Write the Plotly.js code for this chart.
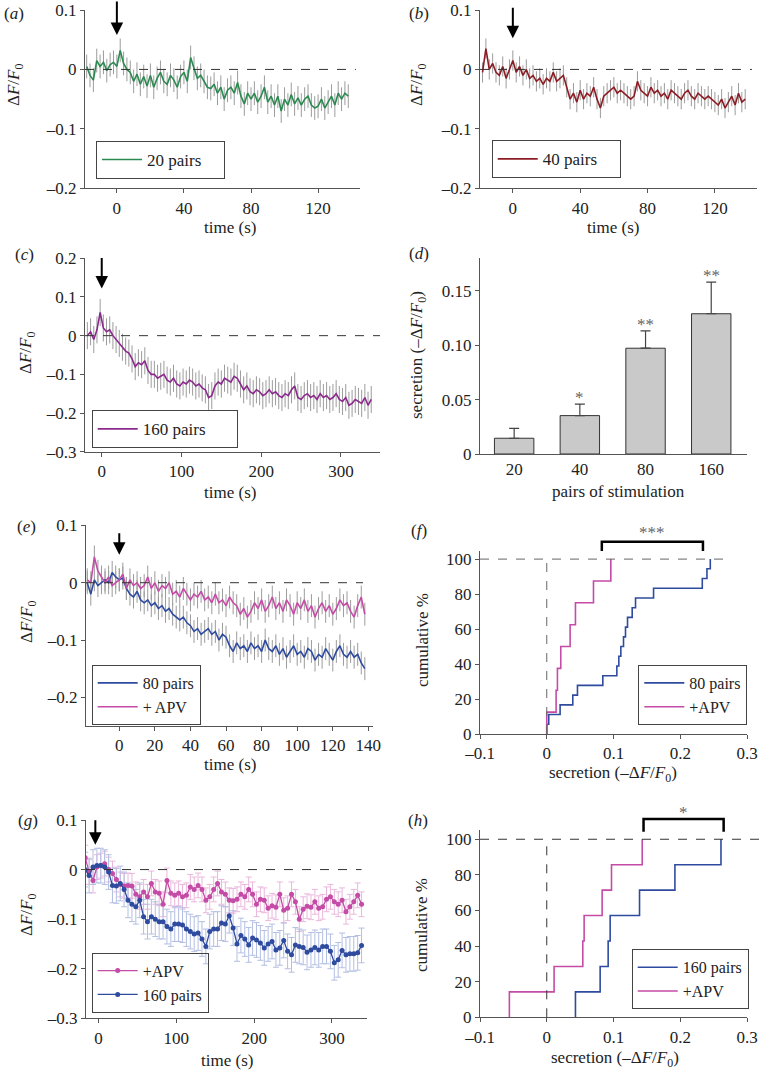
<!DOCTYPE html>
<html><head><meta charset="utf-8">
<script src="https://cdn.plot.ly/plotly-3.0.1.min.js"></script>
<style>html,body{margin:0;padding:0;background:#fff}#plot{width:760px;height:1073px}</style>
</head><body><div id="plot"></div>
<script>
// ---------------- DATA ----------------
// time grids (s)
const T_ABE = [-18,-16,-14,-12,-10,-8,-6,-4,-2,0,2,4,6,8,10,12,14,16,18,20,22,24,26,28,30,32,34,36,38,40,42,44,46,48,50,52,54,56,58,60,62,64,66,68,70,72,74,76,78,80,82,84,86,88,90,92,94,96,98,100,102,104,106,108,110,112,114,116,118,120,122,124,126,128,130,132,134,136,138];
const T_C = [-18,-14,-10,-6,-2,2,6,10,14,18,22,26,30,34,38,42,46,50,54,58,62,66,70,74,78,82,86,90,94,98,102,106,110,114,118,122,126,130,134,138,142,146,150,154,158,162,166,170,174,178,182,186,190,194,198,202,206,210,214,218,222,226,230,234,238,242,246,250,254,258,262,266,270,274,278,282,286,290,294,298,302,306,310,314,318,322,326,330,334,338];
const T_G = [-17,-12,-7,-2,3,8,13,18,23,28,33,38,43,48,53,58,63,68,73,78,83,88,93,98,103,108,113,118,123,128,133,138,143,148,153,158,163,168,173,178,183,188,193,198,203,208,213,218,223,228,233,238,243,248,253,258,263,268,273,278,283,288,293,298,303,308,313,318,323,328,333,338];

// (a) 20 pairs
const A_20 = [0.005,-0.01,-0.018,0.015,0.005,0.012,-0.002,0.008,0.012,0.005,
0.032,0.01,0.0,-0.005,-0.02,-0.008,-0.025,-0.012,-0.028,-0.01,
-0.03,-0.015,-0.005,-0.02,-0.025,-0.01,-0.018,-0.03,-0.012,-0.005,
-0.02,0.02,0.002,-0.015,-0.01,-0.02,-0.03,-0.032,-0.025,-0.04,
-0.03,-0.05,-0.035,-0.03,-0.04,-0.022,-0.045,-0.058,-0.04,-0.05,
-0.04,-0.055,-0.045,-0.03,-0.055,-0.045,-0.06,-0.045,-0.07,-0.05,
-0.06,-0.042,-0.058,-0.048,-0.06,-0.05,-0.045,-0.06,-0.065,-0.062,
-0.05,-0.065,-0.055,-0.045,-0.06,-0.04,-0.05,-0.04,-0.045];
const A_SEM = 0.02;

// (b) 40 pairs
const B_40 = [-0.005,0.035,0.0,0.01,-0.005,-0.01,0.005,-0.015,0.0,0.015,
-0.005,0.005,-0.01,0.0,-0.015,-0.01,-0.02,-0.015,-0.025,-0.015,
-0.02,-0.005,-0.02,-0.015,-0.01,-0.03,-0.05,-0.04,-0.055,-0.035,
-0.05,-0.04,-0.045,-0.03,-0.05,-0.065,-0.045,-0.04,-0.035,-0.03,
-0.04,-0.035,-0.04,-0.045,-0.05,-0.045,-0.02,-0.035,-0.04,-0.045,
-0.03,-0.04,-0.035,-0.045,-0.04,-0.05,-0.035,-0.04,-0.045,-0.05,
-0.04,-0.035,-0.045,-0.05,-0.04,-0.045,-0.05,-0.045,-0.05,-0.055,
-0.06,-0.05,-0.065,-0.055,-0.045,-0.06,-0.04,-0.055,-0.05];
const B_SEM = 0.017;

// (c) 160 pairs
const C_160 = [0.0,0.01,-0.01,0.015,0.06,0.02,0.01,0.015,0.0,-0.01,
-0.02,-0.03,-0.04,-0.045,-0.06,-0.08,-0.07,-0.075,-0.065,-0.09,
-0.1,-0.1,-0.11,-0.105,-0.1,-0.115,-0.12,-0.11,-0.125,-0.13,
-0.12,-0.125,-0.115,-0.12,-0.13,-0.125,-0.135,-0.14,-0.16,-0.155,
-0.13,-0.12,-0.125,-0.11,-0.115,-0.12,-0.105,-0.11,-0.125,-0.14,
-0.13,-0.145,-0.15,-0.14,-0.145,-0.155,-0.15,-0.14,-0.15,-0.145,
-0.155,-0.16,-0.15,-0.155,-0.14,-0.13,-0.16,-0.165,-0.155,-0.15,
-0.16,-0.155,-0.165,-0.15,-0.16,-0.155,-0.165,-0.16,-0.15,-0.165,
-0.17,-0.16,-0.18,-0.175,-0.165,-0.17,-0.175,-0.16,-0.18,-0.165];
const C_SEM = 0.035;

// (d) secretion vs pairs of stimulation
const D_CATS = ['20','40','80','160'];
const D_MEAN = [0.0145,0.0353,0.0973,0.129];
const D_SEM  = [0.009,0.0105,0.016,0.029];
const D_SIG  = ['','*','**','**'];

// (e) 80 pairs and +APV
const E_80 = [0.0,-0.02,0.005,-0.005,0.0,0.005,0.0,0.018,0.01,0.005,
0.008,-0.01,-0.02,-0.025,-0.015,-0.03,-0.035,-0.03,-0.04,-0.035,
-0.045,-0.04,-0.05,-0.045,-0.055,-0.06,-0.065,-0.06,-0.07,-0.075,
-0.085,-0.08,-0.09,-0.085,-0.08,-0.09,-0.085,-0.1,-0.09,-0.095,
-0.11,-0.12,-0.105,-0.115,-0.11,-0.12,-0.105,-0.115,-0.11,-0.12,
-0.1,-0.115,-0.12,-0.11,-0.125,-0.115,-0.13,-0.12,-0.11,-0.125,
-0.12,-0.13,-0.115,-0.12,-0.135,-0.125,-0.13,-0.115,-0.125,-0.135,
-0.12,-0.11,-0.125,-0.13,-0.12,-0.13,-0.125,-0.14,-0.15];
const E_APV = [0.005,0.0,0.045,0.02,0.01,0.0,0.01,-0.005,0.0,0.005,
0.015,-0.01,0.005,-0.005,0.0,-0.01,-0.005,0.01,-0.01,0.0,
-0.015,-0.005,-0.01,0.0,-0.02,-0.015,-0.025,-0.01,-0.02,-0.03,
-0.02,-0.025,-0.015,-0.03,-0.025,-0.035,-0.02,-0.035,-0.03,-0.04,
-0.025,-0.035,-0.04,-0.055,-0.045,-0.06,-0.05,-0.035,-0.045,-0.03,
-0.05,-0.04,-0.025,-0.045,-0.035,-0.05,-0.03,-0.04,-0.055,-0.035,
-0.045,-0.03,-0.05,-0.04,-0.06,-0.045,-0.035,-0.05,-0.04,-0.055,
-0.045,-0.03,-0.04,-0.035,-0.05,-0.06,-0.04,-0.025,-0.055];
const E_SEM = 0.02;

// (f) secretion values per cell (sorted) -> cumulative %
const F_80  = [0.000,0.003,0.020,0.039,0.046,0.084,0.105,0.108,0.111,0.115,0.118,0.121,0.128,0.133,0.160,0.233,0.240,0.245];
const F_APV = [0.000,0.014,0.016,0.021,0.035,0.043,0.070,0.096];

// (g) 160 pairs and +APV (mean ± sem)
const G_APV = [0.024,-0.005,-0.022,0.005,0.008,0.012,0.0,-0.008,-0.02,-0.03,
-0.033,-0.032,-0.033,-0.05,-0.055,-0.045,-0.055,-0.028,-0.045,-0.048,
-0.07,-0.022,-0.048,-0.052,-0.048,-0.055,-0.052,-0.035,-0.04,-0.032,
-0.04,-0.062,-0.055,-0.04,-0.028,-0.045,-0.05,-0.062,-0.063,-0.06,
-0.05,-0.055,-0.04,-0.05,-0.07,-0.06,-0.062,-0.078,-0.073,-0.076,
-0.05,-0.082,-0.078,-0.05,-0.065,-0.1,-0.08,-0.074,-0.076,-0.065,
-0.078,-0.075,-0.06,-0.055,-0.065,-0.07,-0.062,-0.085,-0.075,-0.065,
-0.052,-0.07];
const G_160 = [0.0,-0.012,0.005,0.008,0.008,0.005,-0.005,-0.032,-0.033,-0.028,
-0.04,-0.062,-0.07,-0.075,-0.062,-0.095,-0.105,-0.095,-0.1,-0.105,
-0.105,-0.115,-0.12,-0.11,-0.11,-0.112,-0.12,-0.125,-0.13,-0.128,
-0.14,-0.155,-0.125,-0.12,-0.12,-0.108,-0.11,-0.093,-0.118,-0.15,
-0.133,-0.14,-0.152,-0.138,-0.142,-0.148,-0.158,-0.15,-0.145,-0.162,
-0.158,-0.143,-0.165,-0.172,-0.152,-0.155,-0.157,-0.167,-0.162,-0.157,
-0.162,-0.155,-0.155,-0.165,-0.188,-0.182,-0.163,-0.172,-0.17,-0.17,
-0.168,-0.153];
const G_SEM_APV = 0.025;
const G_SEM_160 = 0.035;

// (h) secretion values per cell (sorted) -> cumulative %
const H_160 = [0.043,0.080,0.092,0.095,0.139,0.192,0.261];
const H_APV = [-0.056,0.011,0.054,0.056,0.083,0.097,0.143];

// ---------------- STYLE / LAYOUT ----------------
const W = 760, H = 1073;
const FONT = '"Liberation Serif", serif';
const TXT = '#222', AX = '#555';
const GREEN = '#2a8a50', DRED = '#8c1d24', PURP = '#8a2a8c', BLUE = '#2e4b9f', PINK = '#c44ba6';
const LBLUE = '#b3bfe3', LPINK = '#eab7dc', GRAY = '#9c9c9c';
const SP = '\u00a0';

const px = v => v / W;
const py = v => 1 - v / H;
const dx = (a, b) => [px(a), px(b)];
const dy = (top, bot) => [py(bot), py(top)];

function axis(domain, range, anchor, extra) {
  return Object.assign({
    domain, range, anchor, showline: true, linecolor: AX, linewidth: 1,
    ticks: 'outside', ticklen: 4, tickcolor: AX, tickwidth: 1, showgrid: false, zeroline: false,
    tickfont: {family: FONT, size: 17, color: TXT}, fixedrange: true
  }, extra || {});
}

function cdf(vals) {
  const n = vals.length, x = [vals[0]], y = [0];
  vals.forEach((v, i) => { x.push(v); y.push((i + 1) / n * 100); });
  return {x, y};
}

const traces = [];
function errTrace(x, y, sem, xa, ya, color, w) {
  traces.push({type: 'scatter', mode: 'markers', x, y, xaxis: xa, yaxis: ya, showlegend: false, hoverinfo: 'skip',
    marker: {size: 2, opacity: 0},
    error_y: {type: 'constant', value: sem, color: color, thickness: 1, width: w || 0}});
}
function lineTrace(x, y, name, xa, ya, color, legend, extra) {
  traces.push(Object.assign({type: 'scatter', mode: 'lines', x, y, name, xaxis: xa, yaxis: ya, legend,
    line: {color, width: 1.6}}, extra || {}));
}

// (a)
errTrace(T_ABE, A_20, A_SEM, 'x', 'y', GRAY);
lineTrace(T_ABE, A_20, '20 pairs' + SP.repeat(4), 'x', 'y', GREEN, 'legend');
// (b)
errTrace(T_ABE, B_40, B_SEM, 'x2', 'y2', GRAY);
lineTrace(T_ABE, B_40, '40 pairs' + SP.repeat(4), 'x2', 'y2', DRED, 'legend2');
// (c)
errTrace(T_C, C_160, C_SEM, 'x3', 'y3', GRAY);
lineTrace(T_C, C_160, '160 pairs' + SP.repeat(6), 'x3', 'y3', PURP, 'legend3');
// (d)
traces.push({type: 'bar', x: D_CATS, y: D_MEAN, xaxis: 'x4', yaxis: 'y4', showlegend: false, width: 0.6,
  marker: {color: '#c9c9c9', line: {color: '#333', width: 1}},
  error_y: {type: 'data', symmetric: false, array: D_SEM, arrayminus: D_SEM.map(() => 0), color: '#444', thickness: 1.2, width: 5}});
// (e)
errTrace(T_ABE, E_80, E_SEM, 'x5', 'y5', GRAY);
errTrace(T_ABE, E_APV, E_SEM, 'x5', 'y5', GRAY);
lineTrace(T_ABE, E_80, '80 pairs', 'x5', 'y5', BLUE, 'legend4');
lineTrace(T_ABE, E_APV, '+ APV', 'x5', 'y5', PINK, 'legend4');
// (f)
const f80 = cdf(F_80), fapv = cdf(F_APV);
lineTrace(f80.x, f80.y, '80 pairs', 'x6', 'y6', BLUE, 'legend5', {line: {color: BLUE, width: 1.6, shape: 'hv'}});
lineTrace(fapv.x, fapv.y, '+APV', 'x6', 'y6', PINK, 'legend5', {line: {color: PINK, width: 1.6, shape: 'hv'}});
// (g)
errTrace(T_G, G_APV, G_SEM_APV, 'x7', 'y7', LPINK, 3);
errTrace(T_G, G_160, G_SEM_160, 'x7', 'y7', LBLUE, 3);
lineTrace(T_G, G_APV, '+APV', 'x7', 'y7', PINK, 'legend6', {mode: 'lines+markers', marker: {size: 5, color: PINK}, line: {color: PINK, width: 1.3}});
lineTrace(T_G, G_160, '160 pairs', 'x7', 'y7', BLUE, 'legend6', {mode: 'lines+markers', marker: {size: 5, color: BLUE}, line: {color: BLUE, width: 1.3}});
// (h)
const h160 = cdf(H_160), hapv = cdf(H_APV);
lineTrace(h160.x, h160.y, '160 pairs', 'x8', 'y8', BLUE, 'legend7', {line: {color: BLUE, width: 1.6, shape: 'hv'}});
lineTrace(hapv.x, hapv.y, '+APV', 'x8', 'y8', PINK, 'legend7', {line: {color: PINK, width: 1.6, shape: 'hv'}});

function leg(left, bottom, size) {
  return {x: px(left), y: py(bottom), xanchor: 'left', yanchor: 'bottom', bgcolor: 'rgba(255,255,255,0)',
    bordercolor: '#444', borderwidth: 1, font: {family: FONT, size: size || 17, color: TXT}, tracegroupgap: 0,
    itemwidth: 40, traceorder: 'normal'};
}

function txt(x, y, text, extra) {
  return Object.assign({xref: 'paper', yref: 'paper', x: px(x), y: py(y), text, showarrow: false,
    font: {family: FONT, size: 17, color: TXT}, xanchor: 'center', yanchor: 'middle'}, extra || {});
}
const DF = 'Δ<i>F</i>/<i>F</i><sub>0</sub>';
const SEC = 'secretion (–Δ<i>F</i>/<i>F</i><sub>0</sub>)';

function arrow(xa, ya, x, y, len) {
  return {xref: xa, yref: ya, x, y, ax: 0, ay: -len, text: '', showarrow: true, arrowhead: 2,
    arrowsize: 1.25, arrowwidth: 2, arrowcolor: '#000', standoff: 0};
}

const annotations = [
  txt(14, 13, '(<i>a</i>)'), txt(419, 13, '(<i>b</i>)'), txt(24, 255, '(<i>c</i>)'), txt(419, 253, '(<i>d</i>)'),
  txt(26, 526, '(<i>e</i>)'), txt(419, 530, '(<i>f</i>)'), txt(28, 820, '(<i>g</i>)'), txt(418, 820, '(<i>h</i>)'),
  // axis titles
  txt(15, 85, DF, {textangle: -90}), txt(418, 85, DF, {textangle: -90}),
  txt(27, 353, DF, {textangle: -90}), txt(418, 355, SEC, {textangle: -90}),
  txt(28, 622, DF, {textangle: -90}), txt(422, 640, 'cumulative %', {textangle: -90}),
  txt(28, 915, DF, {textangle: -90}), txt(422, 925, 'cumulative %', {textangle: -90}),
  txt(230, 227, 'time (s)'), txt(613, 227, 'time (s)'), txt(230, 492, 'time (s)'), txt(618, 491, 'pairs of stimulation'),
  txt(230, 764, 'time (s)'), txt(613, 774, SEC), txt(227, 1060, 'time (s)'), txt(615, 1059, SEC),
  // arrows
  arrow('x', 'y', 0, 0.058, 35), arrow('x2', 'y2', 0, 0.0524, 32), arrow('x3', 'y3', 0, 0.122, 32),
  arrow('x5', 'y5', 0, 0.049, 23), arrow('x7', 'y7', -4, 0.05, 26),
  // significance
  txt(651.7, 532, '***', {font: {family: FONT, size: 17, color: '#666'}}),
  txt(683.3, 812, '*', {font: {family: FONT, size: 17, color: '#666'}})
];
D_CATS.forEach((c, i) => {
  if (D_SIG[i]) annotations.push({xref: 'x4', yref: 'y4', x: i, y: D_MEAN[i] + D_SEM[i] + 0.006, text: D_SIG[i],
    showarrow: false, font: {family: FONT, size: 17, color: '#666'}, xanchor: 'center', yanchor: 'middle'});
});

const dash = {color: '#333', width: 1, dash: 'dash'};
const shapes = [
  {type: 'line', xref: 'x', yref: 'y', x0: -19, x1: 142.6, y0: 0, y1: 0, line: dash},
  {type: 'line', xref: 'x2', yref: 'y2', x0: -19.5, x1: 142, y0: 0, y1: 0, line: dash},
  {type: 'line', xref: 'x3', yref: 'y3', x0: -21, x1: 349, y0: 0, y1: 0, line: dash},
  {type: 'line', xref: 'x5', yref: 'y5', x0: -18.7, x1: 137, y0: 0, y1: 0, line: dash},
  {type: 'line', xref: 'x7', yref: 'y7', x0: -16, x1: 338, y0: 0, y1: 0, line: dash},
  {type: 'line', xref: 'x6', yref: 'y6', x0: -0.1, x1: 0.265, y0: 100, y1: 100, line: {color: '#666', width: 1, dash: 'dash'}},
  {type: 'line', xref: 'x6', yref: 'y6', x0: 0, x1: 0, y0: 0, y1: 100, line: {color: '#666', width: 1, dash: 'dash'}},
  {type: 'line', xref: 'paper', yref: 'y8', x0: px(480), x1: 1, y0: 100, y1: 100, line: dash},
  {type: 'line', xref: 'x8', yref: 'y8', x0: 0, x1: 0, y0: 0, y1: 100, line: dash},
  {type: 'path', xref: 'x6', yref: 'paper', path: `M0.0825,${py(551)} L0.0825,${py(541.7)} L0.234,${py(541.7)} L0.234,${py(551)}`, line: {color: '#000', width: 2.5}},
  {type: 'path', xref: 'x8', yref: 'paper', path: `M0.145,${py(831.7)} L0.145,${py(819)} L0.265,${py(819)} L0.265,${py(831.7)}`, line: {color: '#000', width: 2.5}}
];

const layout = {
  width: W, height: H, margin: {l: 0, r: 0, t: 0, b: 0}, paper_bgcolor: '#fff', plot_bgcolor: 'rgba(0,0,0,0)',
  font: {family: FONT, size: 17, color: TXT}, showlegend: true, hovermode: false,
  xaxis:  axis(dx(85, 360), [-19, 145], 'y', {tickvals: [0, 40, 80, 120]}),
  yaxis:  axis(dy(10, 188.3), [-0.2, 0.1], 'x', {tickvals: [-0.2, -0.1, 0, 0.1], ticktext: ['–0.2', '–0.1', '0', '0.1']}),
  xaxis2: axis(dx(480, 757), [-19.5, 145], 'y2', {tickvals: [0, 40, 80, 120]}),
  yaxis2: axis(dy(10, 188.3), [-0.2, 0.1], 'x2', {tickvals: [-0.2, -0.1, 0, 0.1], ticktext: ['–0.2', '–0.1', '0', '0.1']}),
  xaxis3: axis(dx(85, 380), [-21, 349], 'y3', {tickvals: [0, 100, 200, 300]}),
  yaxis3: axis(dy(258.3, 451.7), [-0.3, 0.2], 'x3', {tickvals: [-0.3, -0.2, -0.1, 0, 0.1, 0.2], ticktext: ['–0.3', '–0.2', '–0.1', '0', '0.1', '0.2']}),
  xaxis4: axis(dx(480, 746.7), [-0.52, 3.54], 'y4', {type: 'category', categoryorder: 'array', categoryarray: D_CATS, ticks: ''}),
  yaxis4: axis(dy(258.3, 454), [0, 0.18], 'x4', {tickvals: [0, 0.05, 0.1, 0.15], ticktext: ['0', '0.05', '0.10', '0.15']}),
  xaxis5: axis(dx(86, 373), [-18.7, 142.6], 'y5', {tickvals: [0, 20, 40, 60, 80, 100, 120, 140]}),
  yaxis5: axis(dy(525.4, 726), [-0.25, 0.1], 'x5', {tickvals: [-0.2, -0.1, 0, 0.1], ticktext: ['–0.2', '–0.1', '0', '0.1']}),
  xaxis6: axis(dx(480, 747), [-0.1, 0.3], 'y6', {tickvals: [-0.1, 0, 0.1, 0.2, 0.3], ticktext: ['–0.1', '0', '0.1', '0.2', '0.3']}),
  yaxis6: axis(dy(550.7, 734), [0, 104.8], 'x6', {tickvals: [0, 20, 40, 60, 80, 100]}),
  xaxis7: axis(dx(86, 367), [-16, 345], 'y7', {tickvals: [0, 100, 200, 300]}),
  yaxis7: axis(dy(820, 1018.3), [-0.3, 0.1], 'x7', {tickvals: [-0.3, -0.2, -0.1, 0, 0.1], ticktext: ['–0.3', '–0.2', '–0.1', '0', '0.1']}),
  xaxis8: axis(dx(480, 747), [-0.1, 0.3], 'y8', {tickvals: [-0.1, 0, 0.1, 0.2, 0.3], ticktext: ['–0.1', '0', '0.1', '0.2', '0.3']}),
  yaxis8: axis(dy(830, 1017.3), [0, 105.2], 'x8', {tickvals: [0, 20, 40, 60, 80, 100]}),
  legend:  leg(96, 179),
  legend2: leg(491.7, 178.3),
  legend3: leg(91.7, 448.3),
  legend4: leg(91.7, 725, 16),
  legend5: leg(638.3, 725, 16),
  legend6: leg(91.7, 1012.7, 16),
  legend7: leg(631.7, 1009.3, 16),
  annotations, shapes
};

Plotly.newPlot('plot', traces, layout, {staticPlot: true, displayModeBar: false});
</script></body></html>
